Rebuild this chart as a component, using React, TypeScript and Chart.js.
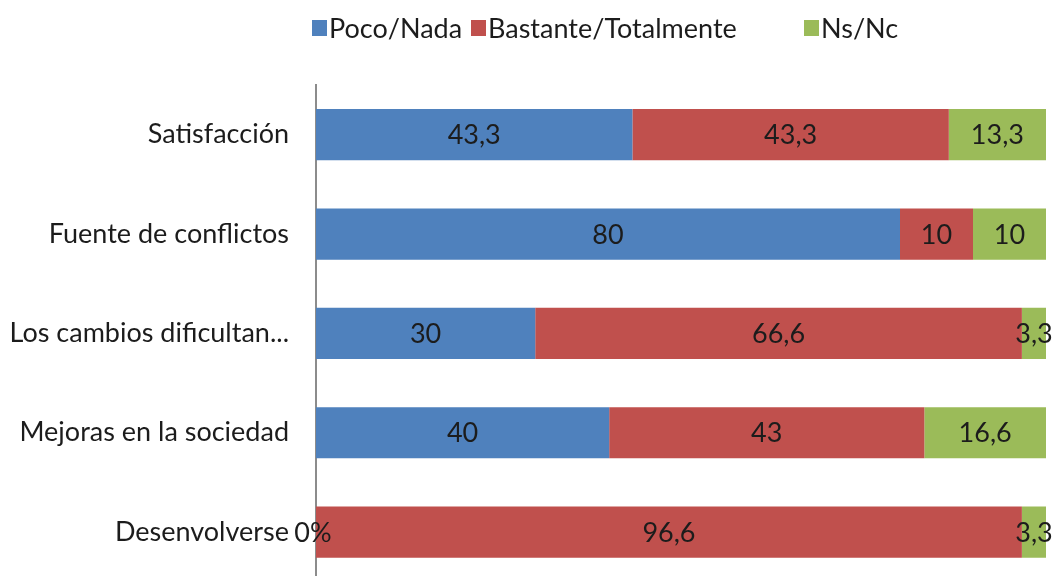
import React, { useEffect, useRef } from "react";
import { Chart, registerables } from "chart.js";

Chart.register(...registerables);

const categories = [
  "Satisfacción",
  "Fuente de conflictos",
  "Los cambios dificultan...",
  "Mejoras en la sociedad",
  "Desenvolverse",
];
const seriesNames = ["Poco/Nada", "Bastante/Totalmente", "Ns/Nc"];
const pocoNada = [43.3, 80, 30, 40, 0];
const bastante = [43.3, 10, 66.6, 43, 96.6];
const nsnc = [13.3, 10, 3.3, 16.6, 3.3];
const colors = ["#4F81BD", "#C0504D", "#9BBB59"];

const FONT = "Lato, 'Open Sans', sans-serif";
const FONT_SIZE = 27;
const TEXT_COLOR = "#1c1c1c";

export default function App() {
  const ref = useRef<HTMLCanvasElement | null>(null);

  useEffect(() => {
    if (!ref.current) return;
    const raw = [pocoNada, bastante, nsnc];
    const totals = categories.map((_, i) => raw.reduce((s, arr) => s + arr[i], 0));
    const datasets = raw.map((arr, k) => ({
      label: seriesNames[k],
      data: arr.map((v, i) => (v / totals[i]) * 100),
      rawValues: arr,
      backgroundColor: colors[k],
      borderWidth: 0,
      categoryPercentage: 1,
      barPercentage: 0.515,
    }));

    const labelPlugin = {
      id: "valueLabels",
      afterDatasetsDraw(chart: any) {
        const ctx = chart.ctx;
        ctx.save();
        ctx.font = `${FONT_SIZE}px ${FONT}`;
        ctx.fillStyle = TEXT_COLOR;
        ctx.textAlign = "center";
        ctx.textBaseline = "middle";
        chart.data.datasets.forEach((ds: any, di: number) => {
          const meta = chart.getDatasetMeta(di);
          meta.data.forEach((bar: any, i: number) => {
            const v = ds.rawValues[i];
            const txt = v === 0 ? "0%" : String(v).replace(".", ",");
            const cx = v === 0 ? bar.base - 3 : (bar.x + bar.base) / 2;
            ctx.fillText(txt, cx, bar.y + 1);
          });
        });
        ctx.restore();
      },
    };

    const legendStarts = [312, 471, 804];
    const legendPlugin = {
      id: "customLegend",
      afterDraw(chart: any) {
        const ctx = chart.ctx;
        ctx.save();
        ctx.font = `${FONT_SIZE}px ${FONT}`;
        ctx.textBaseline = "middle";
        ctx.textAlign = "left";
        chart.data.datasets.forEach((ds: any, k: number) => {
          const x = legendStarts[k];
          ctx.fillStyle = ds.backgroundColor;
          ctx.fillRect(x, 20, 15, 16);
          ctx.fillStyle = TEXT_COLOR;
          ctx.fillText(ds.label, x + 17, 29);
        });
        ctx.restore();
      },
    };

    const chart = new Chart(ref.current, {
      type: "bar",
      data: { labels: categories, datasets: datasets as any },
      options: {
        indexAxis: "y",
        responsive: true,
        maintainAspectRatio: false,
        animation: false,
        layout: { padding: { top: 85, right: 8, bottom: 0, left: 0 } },
        plugins: { legend: { display: false }, tooltip: { enabled: false } },
        scales: {
          x: { stacked: true, min: 0, max: 100, display: false },
          y: {
            stacked: true,
            afterFit: (scale: any) => {
              scale.width = 316;
            },
            grid: { display: false, drawTicks: false },
            border: { display: true, color: "#8c8c8c", width: 2 },
            ticks: {
              padding: 27,
              color: TEXT_COLOR,
              font: { family: FONT, size: FONT_SIZE },
            },
          },
        },
      },
      plugins: [labelPlugin, legendPlugin],
    });
    return () => chart.destroy();
  }, []);

  return (
    <div
      style={{
        position: "fixed",
        left: 0,
        top: 0,
        width: 1054,
        height: 576,
        overflow: "hidden",
        background: "#fff",
      }}
    >
      <div style={{ position: "relative", width: 1054, height: 625 }}>
        <canvas ref={ref} />
      </div>
    </div>
  );
}
